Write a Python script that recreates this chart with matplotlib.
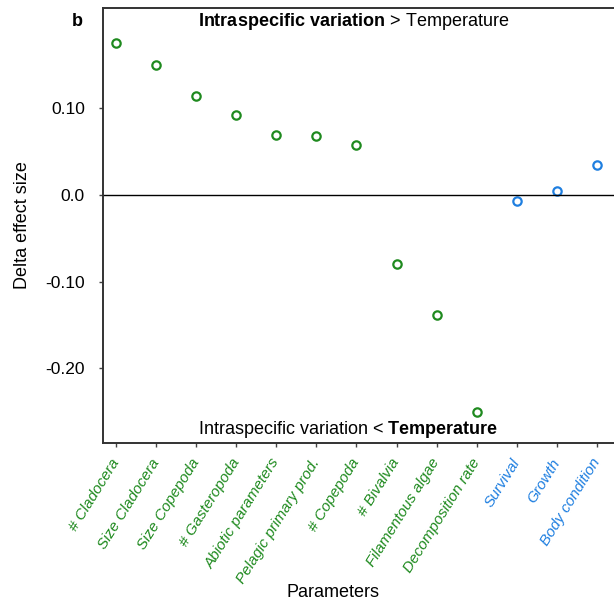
import matplotlib
matplotlib.use("Agg")
import matplotlib.pyplot as plt

plt.rcParams['font.family'] = ['Liberation Sans', 'DejaVu Sans']
plt.rcParams['mathtext.fontset'] = 'custom'
plt.rcParams['mathtext.rm'] = 'Liberation Sans'
plt.rcParams['mathtext.bf'] = 'Liberation Sans:bold'

parameters = ["# Cladocera", "Size Cladocera", "Size Copepoda", "# Gasteropoda",
              "Abiotic parameters", "Pelagic primary prod.", "# Copepoda", "# Bivalvia",
              "Filamentous algae", "Decomposition rate", "Survival", "Growth", "Body condition"]
delta = [0.175, 0.150, 0.114, 0.092, 0.069, 0.068, 0.058, -0.080, -0.138, -0.250,
         -0.007, 0.005, 0.035]
group = ["eco"] * 10 + ["fish"] * 3
yticks = [0.10, 0.0, -0.10, -0.20]
ytick_labels = ["0.10", "0.0", "-0.10", "-0.20"]

colors = {"eco": "#1f8a1f", "fish": "#1f7fe0"}

fig = plt.figure(figsize=(6.14, 6.07), dpi=100)
axw = (614 - 103 + 6) / 614
ax = fig.add_axes([103/614, 1 - 443/607, axw, (443 - 8)/607])

xs = list(range(1, len(parameters) + 1))
for x, y, g in zip(xs, delta, group):
    ax.plot(x, y, 'o', ms=6, mfc='none', mec=colors[g], mew=1.6)

ax.axhline(0, color='black', lw=1)
ax.set_xlim(0.676, 0.676 + 517 / 40.08)
ax.set_ylim(-0.286, 0.2157)

ax.set_yticks(yticks)
ax.set_yticklabels(ytick_labels, fontsize=12.5)
ax.set_xticks(xs)
ax.set_xticklabels(parameters, rotation=58, ha='right', va='center',
                   rotation_mode='anchor', fontsize=11, style='italic')
for lbl, g in zip(ax.get_xticklabels(), group):
    lbl.set_color(colors[g])

ax.tick_params(axis='both', length=3, width=1, color='#444444')
ax.tick_params(axis='y', pad=10)
ax.tick_params(axis='x', pad=9)
for s in ['left', 'bottom', 'top']:
    ax.spines[s].set_linewidth(1.4)
    ax.spines[s].set_color('#333333')
ax.spines['right'].set_visible(False)

ax.set_ylabel("Delta effect size", fontsize=13)
ax.set_xlabel("Parameters", fontsize=13)
ax.xaxis.set_label_coords((333 - 103) / 517, -0.324)
ax.yaxis.set_label_coords(-0.14, 0.5)

fig.text(77/614, 1 - 22/607, "b", fontsize=13, fontweight='bold', ha='center', va='center')
fig.text(354/614, 1 - 22/607, r"$\mathbf{Intraspecific\ variation}$ > Temperature",
         fontsize=13, ha='center', va='center')
fig.text(348/614, 1 - 430/607, r"Intraspecific variation < $\mathbf{Temperature}$",
         fontsize=13, ha='center', va='center')

fig.savefig("out.png", dpi=100)
